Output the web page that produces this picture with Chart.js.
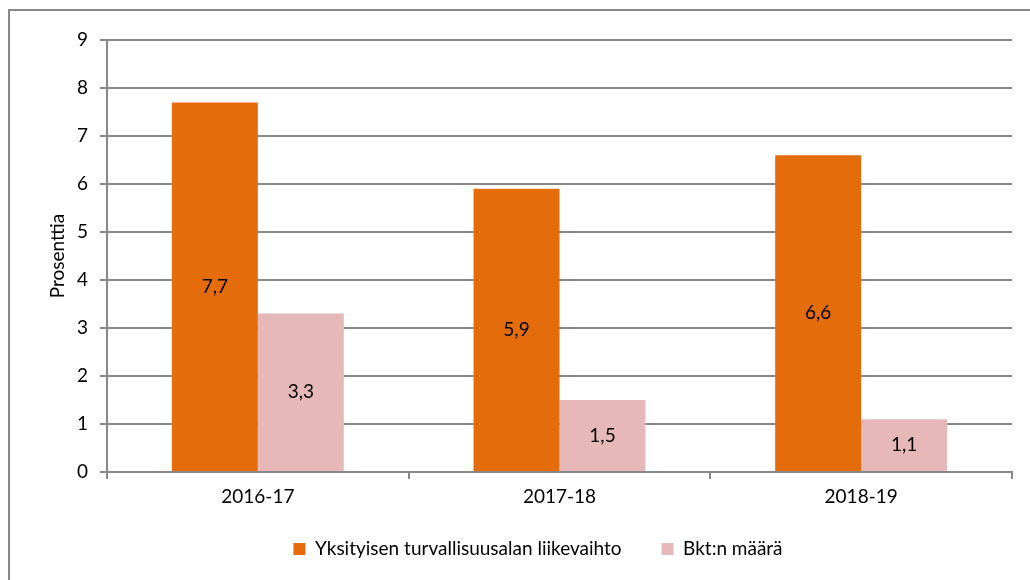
<!DOCTYPE html>
<html lang="fi">
<head>
<meta charset="utf-8">
<title>Prosenttia</title>
<script src="https://cdn.jsdelivr.net/npm/chart.js@4"></script>
<style>
  body { margin: 0; background: #fff; }
  #wrap { width: 1030px; height: 580px; }
</style>
</head>
<body>
<div id="wrap"><canvas id="myChart" width="1030" height="580"></canvas></div>
<script>
'use strict';

// *********** DATA ***********
let years = ['2016-17', '2017-18', '2018-19'];
let turnover = [7.7, 5.9, 6.6];
let gdp = [3.3, 1.5, 1.1];
let seriesNames = ['Yksityisen turvallisuusalan liikevaihto', 'Bkt:n määrä'];
let yTicks = [0, 1, 2, 3, 4, 5, 6, 7, 8, 9];

// *********** STYLE ***********
let fontName = 'Lato, "Noto Sans", sans-serif';
let fontSize = 19;
let gridColor = '#888888';

// ********** PLUGINS ***********
// grey frame of the chart object (only left and top edge are in view)
let framePlugin = {
  id: 'frame',
  beforeDraw(chart) {
    let c = chart.ctx;
    c.save();
    c.strokeStyle = gridColor;
    c.lineWidth = 2;
    c.beginPath();
    c.moveTo(9, 580);
    c.lineTo(9, 10);
    c.lineTo(1030, 10);
    c.stroke();
    c.restore();
  }
};

// pull the legend up closer to the axis labels and a little to the right
let legendNudge = {
  id: 'legendNudge',
  afterLayout(chart) {
    let lg = chart.legend;
    if (lg) {
      lg.top -= 9.5;
      lg.bottom -= 9.5;
      lg.left += 11;
      lg.right += 11;
    }
  }
};

// value labels in the middle of each bar, decimal comma
let valueLabels = {
  id: 'valueLabels',
  afterDatasetsDraw(chart) {
    let c = chart.ctx;
    c.save();
    c.font = fontSize + 'px ' + fontName;
    c.fillStyle = '#000';
    c.textAlign = 'center';
    c.textBaseline = 'middle';
    chart.data.datasets.forEach((ds, i) => {
      chart.getDatasetMeta(i).data.forEach((bar, j) => {
        let txt = String(ds.data[j]).replace('.', ',');
        c.fillText(txt, bar.x, (bar.y + bar.base) / 2);
      });
    });
    c.restore();
  }
};

// ********** CHART ***********
let ctx = document.getElementById('myChart').getContext('2d');

Chart.defaults.font.family = fontName;
Chart.defaults.font.size = fontSize;
Chart.defaults.color = '#000';

let myChart = new Chart(ctx, {
  type: 'bar',
  data: {
    labels: years,
    datasets: [{
      label: seriesNames[0],
      data: turnover,
      backgroundColor: '#E46C0A',
      categoryPercentage: 0.57,
      barPercentage: 1
    },
    {
      label: seriesNames[1],
      data: gdp,
      backgroundColor: '#E6B9B8',
      categoryPercentage: 0.57,
      barPercentage: 1
    }]
  },
  options: {
    responsive: false,
    animation: false,
    layout: {
      padding: { left: 42, top: 40, right: 18, bottom: 2 }
    },
    scales: {
      x: {
        grid: {
          drawOnChartArea: false,
          drawTicks: true,
          tickLength: 7,
          color: gridColor,
          lineWidth: 2
        },
        border: { color: gridColor, width: 2 },
        ticks: { padding: 6 },
        afterFit(scale) {
          scale.height = 37;
        }
      },
      y: {
        min: 0,
        max: 9,
        afterBuildTicks(scale) {
          scale.ticks = yTicks.map(v => ({ value: v }));
        },
        grid: {
          color: gridColor,
          lineWidth: 2,
          tickLength: 7
        },
        border: { color: gridColor, width: 2 },
        ticks: { padding: 12 },
        title: {
          display: true,
          text: 'Prosenttia'
        },
        afterFit(scale) {
          scale.width = 65;
        }
      }
    },
    plugins: {
      legend: {
        position: 'bottom',
        labels: {
          boxWidth: 12,
          boxHeight: 12,
          padding: 40
        }
      },
      tooltip: { enabled: false }
    }
  },
  plugins: [framePlugin, legendNudge, valueLabels]
});
</script>
</body>
</html>
